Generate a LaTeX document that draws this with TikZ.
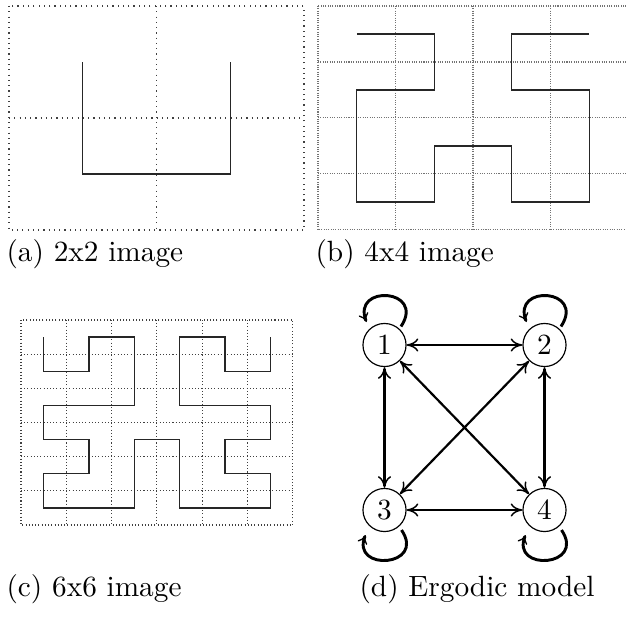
\documentclass[tikz,border=0pt]{standalone}
\usetikzlibrary{arrows.meta}
\begin{document}
\begin{tikzpicture}[x=0.3413pt,y=-0.3413pt,
  gridA/.style={draw=black!75, line width=0.4pt, dash pattern=on 0.4pt off 1.4pt},
  gridB/.style={draw=black!55, line width=0.35pt, dash pattern=on 0.35pt off 0.45pt},
  gridC/.style={draw=black!75, line width=0.35pt, dash pattern=on 0.35pt off 0.75pt},
  hpath/.style={draw=black!85, line width=0.45pt, line join=miter},
  stnode/.style={circle, draw, line width=0.4pt, minimum size=14.7pt, inner sep=0pt, font=\normalsize},
  edgest/.style={line width=0.75pt, {To[length=4pt,width=4.5pt,line width=0.5pt]}-{To[length=4pt,width=4.5pt,line width=0.5pt]}},
  loopst/.style={line width=1pt, -{To[length=3pt,width=3.5pt,line width=0.45pt]}},
  caption/.style={anchor=base west, inner sep=0pt}]
\useasboundingbox (0,0) rectangle (626,617);

% (a) 2x2
\begin{scope}[shift={(9,6)}, x=50.34pt, y=-38.23pt]
  \draw[gridA] (0,0) rectangle (2,2);
  \draw[gridA] (1,0) -- (1,2);
  \draw[gridA] (0,1) -- (2,1);
  \draw[hpath] (0.5,0.5) -- (0.5,1.5) -- (1.5,1.5) -- (1.5,0.5);
\end{scope}

% (b) 4x4
\begin{scope}[shift={(318,6)}, x=26.45pt, y=-19.11pt]
  \draw[gridB] (0,0) rectangle (4,4);
  \foreach \i in {1,2,3} {
    \draw[gridB] (\i,0) -- (\i,4);
    \draw[gridB] (0,\i) -- (4,\i);
  }
  \draw[hpath] (0.5,0.5) -- (1.5,0.5) -- (1.5,1.5) -- (0.5,1.5) -- (0.5,3.5)
    -- (1.5,3.5) -- (1.5,2.5) -- (2.5,2.5) -- (2.5,3.5) -- (3.5,3.5)
    -- (3.5,1.5) -- (2.5,1.5) -- (2.5,0.5) -- (3.5,0.5);
\end{scope}

% (c) 6x6
\begin{scope}[shift={(21,320)}, x=15.47pt, y=-11.66pt]
  \draw[gridC] (0,0) rectangle (6,6);
  \foreach \i in {1,...,5} {
    \draw[gridC] (\i,0) -- (\i,6);
    \draw[gridC] (0,\i) -- (6,\i);
  }
  \draw[hpath] (0.5,0.5) -- (0.5,1.5) -- (1.5,1.5) -- (1.5,0.5) -- (2.5,0.5)
    -- (2.5,2.5) -- (0.5,2.5) -- (0.5,3.5) -- (1.5,3.5) -- (1.5,4.5)
    -- (0.5,4.5) -- (0.5,5.5) -- (2.5,5.5) -- (2.5,3.5) -- (3.5,3.5)
    -- (3.5,5.5) -- (5.5,5.5) -- (5.5,4.5) -- (4.5,4.5) -- (4.5,3.5)
    -- (5.5,3.5) -- (5.5,2.5) -- (3.5,2.5) -- (3.5,0.5) -- (4.5,0.5)
    -- (4.5,1.5) -- (5.5,1.5) -- (5.5,0.5);
\end{scope}

% (d) ergodic model
\node[stnode] (n1) at (384.5,345) {1};
\node[stnode] (n2) at (544.5,345) {2};
\node[stnode] (n3) at (384.5,510) {3};
\node[stnode] (n4) at (544.5,510) {4};
\draw[edgest] (n1) -- (n2);
\draw[edgest] (n1) -- (n3);
\draw[edgest] (n2) -- (n4);
\draw[edgest] (n3) -- (n4);
\draw[edgest] (n1) -- (n4);
\draw[edgest] (n2) -- (n3);
\foreach \n in {n1,n2} {
  \draw[loopst] ([shift={(16.5,-18.5)}]\n.center) .. controls +(25,-38) and +(-15,-38)
    .. ([shift={(-18,-23)}]\n.center);
}
\foreach \n in {n3,n4} {
  \draw[loopst] ([shift={(17,20)}]\n.center) .. controls +(25,37) and +(-15,37)
    .. ([shift={(-19,25)}]\n.center);
}

% captions
\node[caption] (capa) at (6,261) {(a) 2x2 image};
\node[caption] (capb) at (315,261) {(b) 4x4 image};
\node[caption] (capc) at (6,596) {(c) 6x6 image};
\node[caption] (capd) at (359,596) {(d) Ergodic model};
\end{tikzpicture}
\end{document}
